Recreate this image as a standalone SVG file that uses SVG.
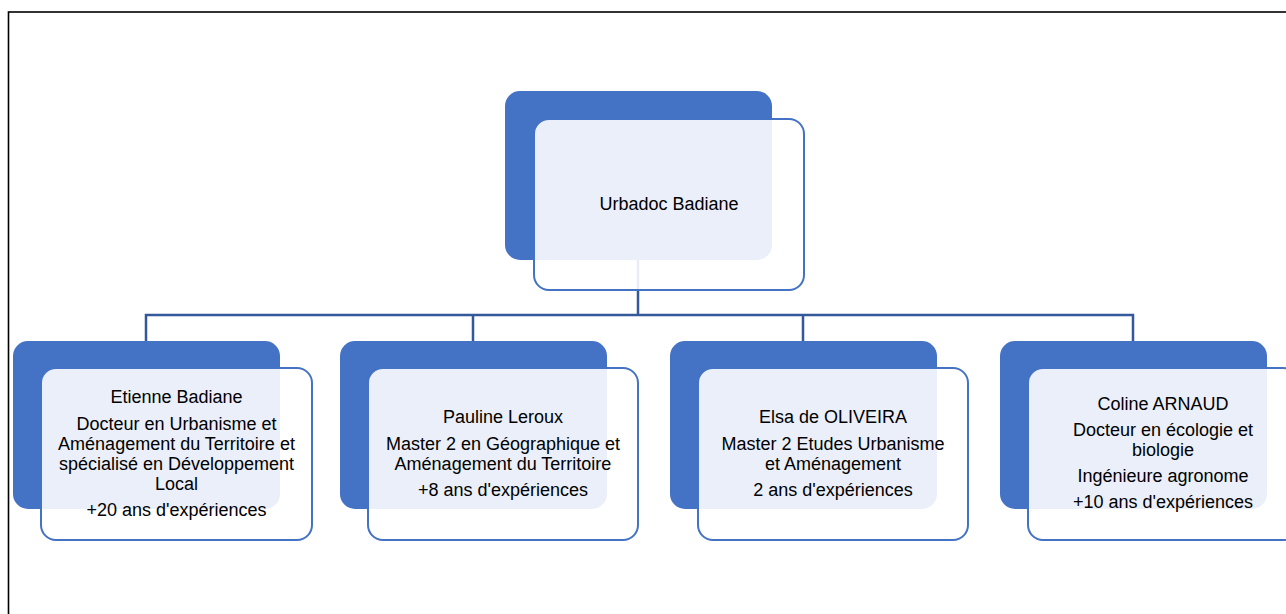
<svg xmlns="http://www.w3.org/2000/svg" width="1286" height="614" viewBox="0 0 1286 614">
<style>
.bg{fill:#4472C4;}
.fg{fill:#FFFFFF;fill-opacity:0.89;stroke:#4472C4;stroke-width:2;}
.t{font-family:"Liberation Sans",Arial,sans-serif;font-size:18px;fill:#000;text-anchor:middle;}
.c{fill:none;stroke:#34599B;stroke-width:2.5;}
</style>
<rect x="0" y="0" width="1286" height="614" fill="#fff"/>
<rect x="8.5" y="12" width="1290" height="620" fill="none" stroke="#000" stroke-width="1.6"/>
<g id="connectors">
<path class="c" d="M638 260 V315 M146 341 V315 H1133 V341 M473 315 V341 M803 315 V341"/>
</g>
<g id="n0">
<rect class="bg" x="505" y="91" width="267" height="169" rx="15"/>
<rect class="fg" x="534" y="119" width="270" height="171" rx="15"/>
<text class="t" x="669" y="210">Urbadoc Badiane</text>
</g>
<g id="n1">
<rect class="bg" x="13" y="341" width="267" height="168" rx="15"/>
<rect class="fg" x="41" y="368" width="271" height="172" rx="15"/>
<text class="t" x="176.5" y="403">Etienne Badiane</text>
<text class="t" x="176.5" y="430">Docteur en Urbanisme et</text>
<text class="t" x="176.5" y="450">Aménagement du Territoire et</text>
<text class="t" x="176.5" y="470">spécialisé en Développement</text>
<text class="t" x="176.5" y="490">Local</text>
<text class="t" x="176.5" y="516">+20 ans d'expériences</text>
</g>
<g id="n2">
<rect class="bg" x="340" y="341" width="267" height="168" rx="15"/>
<rect class="fg" x="368" y="368" width="270" height="172" rx="15"/>
<text class="t" x="503" y="423">Pauline Leroux</text>
<text class="t" x="503" y="450">Master 2 en Géographique et</text>
<text class="t" x="503" y="470">Aménagement du Territoire</text>
<text class="t" x="503" y="496">+8 ans d'expériences</text>
</g>
<g id="n3">
<rect class="bg" x="670" y="341" width="267" height="168" rx="15"/>
<rect class="fg" x="698" y="368" width="270" height="172" rx="15"/>
<text class="t" x="833" y="423">Elsa de OLIVEIRA</text>
<text class="t" x="833" y="450">Master 2 Etudes Urbanisme</text>
<text class="t" x="833" y="470">et Aménagement</text>
<text class="t" x="833" y="496">2 ans d'expériences</text>
</g>
<g id="n4">
<rect class="bg" x="1000" y="341" width="267" height="168" rx="15"/>
<rect class="fg" x="1028" y="368" width="270" height="172" rx="15"/>
<text class="t" x="1163" y="410">Coline ARNAUD</text>
<text class="t" x="1163" y="436">Docteur en écologie et</text>
<text class="t" x="1163" y="456">biologie</text>
<text class="t" x="1163" y="482">Ingénieure agronome</text>
<text class="t" x="1163" y="508">+10 ans d'expériences</text>
</g>
</svg>
